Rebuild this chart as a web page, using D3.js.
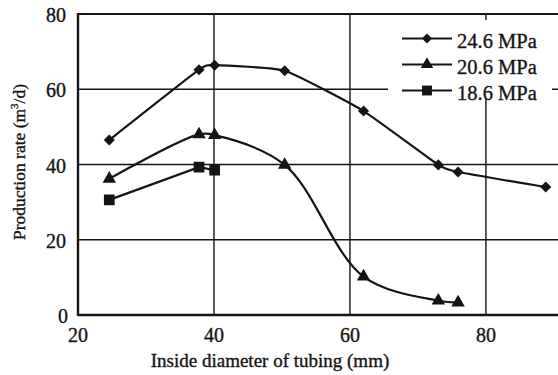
<!DOCTYPE html>
<html>
<head>
<meta charset="utf-8">
<script src="https://cdn.jsdelivr.net/npm/d3@7"></script>
<style>
  body { margin: 0; background: #fff; }
  svg { display: block; }
  text { font-family: "Liberation Serif", "Times New Roman", serif; }
</style>
</head>
<body>
<div id="chart"></div>
<script>
// values
const diameters246 = [24.6, 37.8, 40.1, 50.4, 62.0, 73.0, 75.9, 88.8];
const rates246     = [46.5, 65.2, 66.4, 64.9, 54.2, 39.9, 38.0, 34.0];
const diameters206 = [24.6, 37.8, 40.1, 50.4, 62.0, 73.0, 75.9];
const rates206     = [36.2, 48.0, 47.8, 39.9, 10.2, 3.8, 3.3];
const diameters186 = [24.6, 37.8, 40.1];
const rates186     = [30.6, 39.3, 38.5];
const seriesNames  = ['24.6 MPa', '20.6 MPa', '18.6 MPa'];
const xTicks = [20, 40, 60, 80];
const yTicks = [0, 20, 40, 60, 80];

const width = 558, height = 375;
const margin = { top: 14, right: 0, bottom: 60, left: 78 };
const ink = '#141414';

const x = d3.scaleLinear().domain([20, 90.6]).range([margin.left, width - margin.right]);
const y = d3.scaleLinear().domain([0, 80]).range([height - margin.bottom, margin.top]);

const svg = d3.select('#chart').append('svg')
    .attr('width', width)
    .attr('height', height);

// grid
svg.append('g').selectAll('line')
    .data(xTicks.slice(1))
    .enter().append('line')
    .attr('x1', d => x(d)).attr('x2', d => x(d))
    .attr('y1', y(0)).attr('y2', y(80))
    .attr('stroke', ink).attr('stroke-width', 1.4);
svg.append('g').selectAll('line')
    .data(yTicks.slice(1, -1))
    .enter().append('line')
    .attr('x1', x(20)).attr('x2', width)
    .attr('y1', d => y(d)).attr('y2', d => y(d))
    .attr('stroke', ink).attr('stroke-width', 1.4);

// frame
svg.append('line').attr('x1', x(20)).attr('x2', width).attr('y1', y(80)).attr('y2', y(80))
    .attr('stroke', ink).attr('stroke-width', 2);
svg.append('line').attr('x1', x(20)).attr('x2', width).attr('y1', y(0)).attr('y2', y(0))
    .attr('stroke', ink).attr('stroke-width', 2.4);
svg.append('line').attr('x1', x(20)).attr('x2', x(20)).attr('y1', y(0) + 1).attr('y2', y(80) - 1)
    .attr('stroke', ink).attr('stroke-width', 2.4);

const txt = sel => sel.attr('fill', ink).attr('stroke', ink).attr('stroke-width', 0.35);

// tick labels
svg.append('g').selectAll('text')
    .data(xTicks)
    .enter().append('text')
    .attr('x', d => x(d))
    .attr('y', y(0) + 27)
    .attr('text-anchor', 'middle')
    .attr('font-size', 20)
    .call(txt)
    .text(d => d);
svg.append('g').selectAll('text')
    .data(yTicks)
    .enter().append('text')
    .attr('x', d => d === 0 ? x(20) - 10 : x(20) - 12)
    .attr('y', d => y(d) + 8)
    .attr('text-anchor', 'end')
    .attr('font-size', 20)
    .call(txt)
    .text(d => d);

// axis titles
svg.append('text')
    .attr('x', 270).attr('y', 367)
    .attr('text-anchor', 'middle')
    .attr('font-size', 19)
    .call(txt)
    .text('Inside diameter of tubing (mm)');
svg.append('text')
    .attr('transform', 'translate(25, 162) rotate(-90)')
    .attr('text-anchor', 'middle')
    .attr('font-size', 17.5)
    .call(txt)
    .html('Production rate (m<tspan dy="-7" font-size="11">3</tspan><tspan dy="7">/d)</tspan>');

const series = [
    { name: seriesNames[0], xs: diameters246, ys: rates246, marker: d3.symbolDiamond2, size: 78, curve: d3.curveCardinal.tension(0.55) },
    { name: seriesNames[1], xs: diameters206, ys: rates206, marker: d3.symbolTriangle, size: 78, curve: d3.curveCatmullRom.alpha(0.5) },
    { name: seriesNames[2], xs: diameters186, ys: rates186, marker: d3.symbolSquare, size: 115, curve: d3.curveLinear }
];

series.forEach(s => {
    const pts = s.xs.map((d, i) => [d, s.ys[i]]);
    const line = d3.line().x(d => x(d[0])).y(d => y(d[1])).curve(s.curve);
    svg.append('path')
        .attr('d', line(pts))
        .attr('fill', 'none')
        .attr('stroke', ink)
        .attr('stroke-width', 2.2);
    svg.append('g').selectAll('path')
        .data(pts)
        .enter().append('path')
        .attr('transform', d => `translate(${x(d[0])}, ${y(d[1])})`)
        .attr('d', d3.symbol().type(s.marker).size(s.size))
        .attr('fill', ink);
});

// legend
const legend = svg.append('g');
legend.append('rect')
    .attr('x', 388).attr('y', 20).attr('width', 164).attr('height', 78)
    .attr('fill', '#fff');
series.forEach((s, i) => {
    const ly = 38.5 + i * 26;
    legend.append('line')
        .attr('x1', 402).attr('x2', 452).attr('y1', ly).attr('y2', ly)
        .attr('stroke', ink).attr('stroke-width', 2.2);
    legend.append('path')
        .attr('transform', `translate(427, ${ly})`)
        .attr('d', d3.symbol().type(s.marker).size(s.size * 0.85))
        .attr('fill', ink);
    legend.append('text')
        .attr('x', 457).attr('y', ly + 9)
        .attr('font-size', 20.5)
        .call(txt)
        .text(s.name);
});
</script>
</body>
</html>
